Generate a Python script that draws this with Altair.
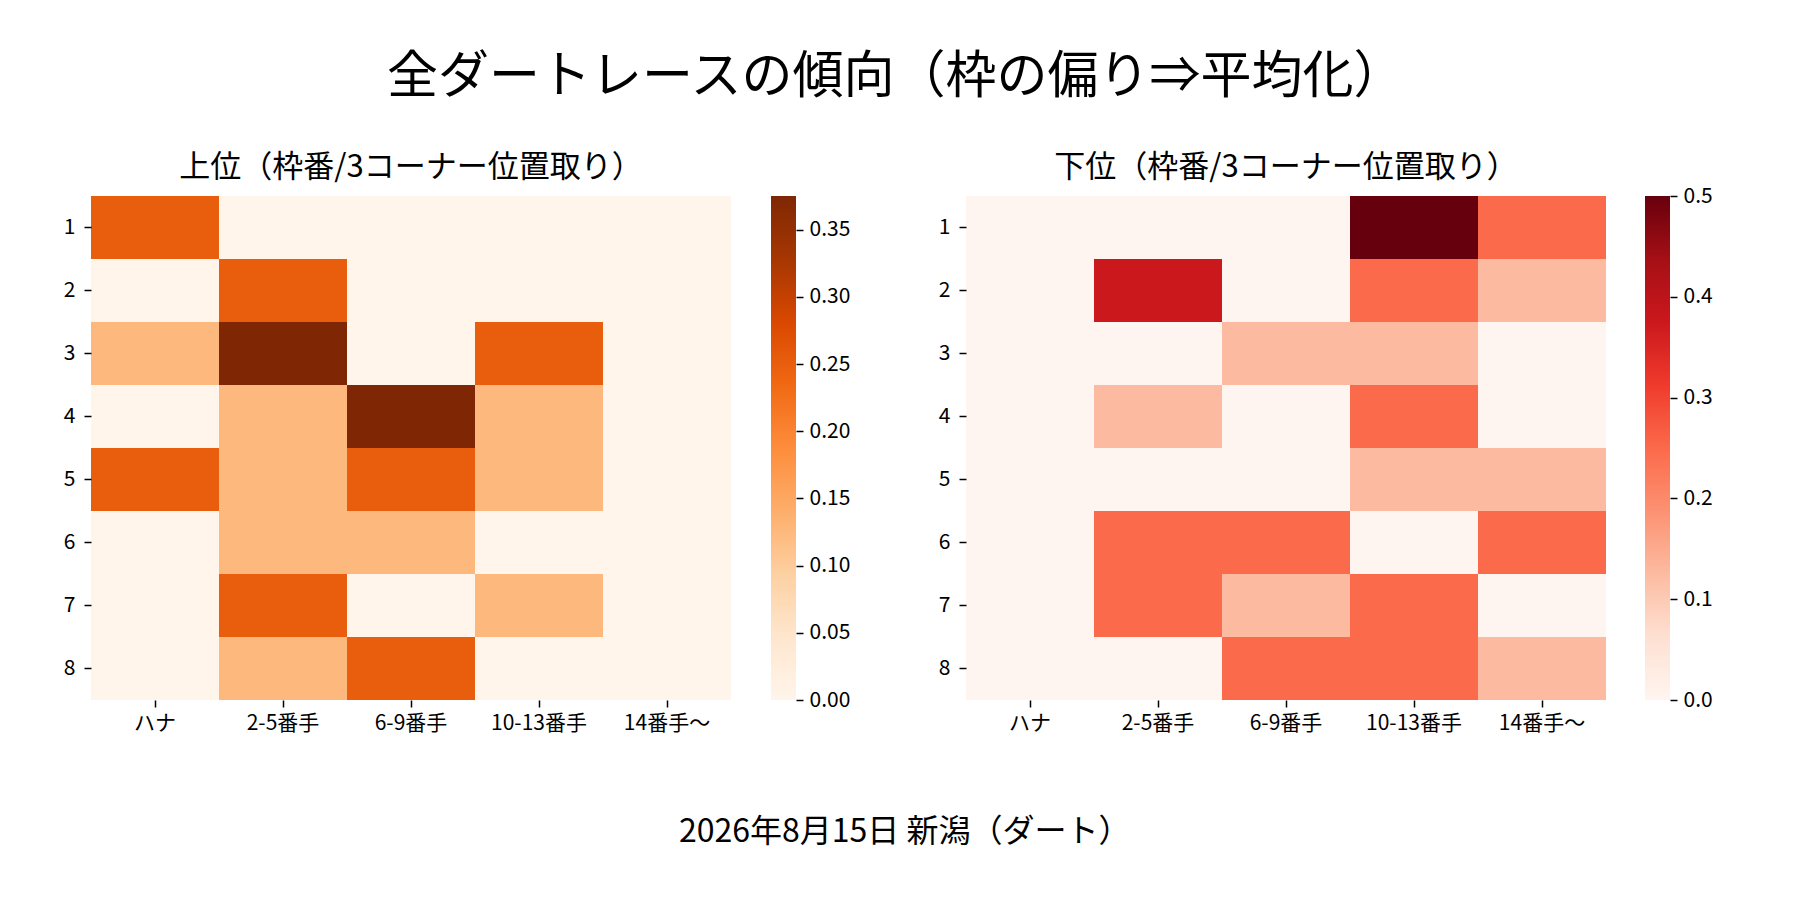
import altair as alt
import pandas as pd

FONT = "Noto Sans CJK JP"

main_title = "全ダートレースの傾向（枠の偏り⇒平均化）"
footer = "2026年8月15日 新潟（ダート）"
title_upper = "上位（枠番/3コーナー位置取り）"
title_lower = "下位（枠番/3コーナー位置取り）"

cols = ["ハナ", "2-5番手", "6-9番手", "10-13番手", "14番手〜"]
rows = [1, 2, 3, 4, 5, 6, 7, 8]

upper = [
    [0.25, 0.0, 0.0, 0.0, 0.0],
    [0.0, 0.25, 0.0, 0.0, 0.0],
    [0.125, 0.375, 0.0, 0.25, 0.0],
    [0.0, 0.125, 0.375, 0.125, 0.0],
    [0.25, 0.125, 0.25, 0.125, 0.0],
    [0.0, 0.125, 0.125, 0.0, 0.0],
    [0.0, 0.25, 0.0, 0.125, 0.0],
    [0.0, 0.125, 0.25, 0.0, 0.0],
]
lower = [
    [0.0, 0.0, 0.0, 0.5, 0.25],
    [0.0, 0.375, 0.0, 0.25, 0.125],
    [0.0, 0.0, 0.125, 0.125, 0.0],
    [0.0, 0.125, 0.0, 0.25, 0.0],
    [0.0, 0.0, 0.0, 0.125, 0.125],
    [0.0, 0.25, 0.25, 0.0, 0.25],
    [0.0, 0.25, 0.125, 0.25, 0.0],
    [0.0, 0.0, 0.25, 0.25, 0.125],
]

upper_vmax = 0.375
lower_vmax = 0.5
upper_ticks = [0.0, 0.05, 0.10, 0.15, 0.20, 0.25, 0.30, 0.35]
lower_ticks = [0.0, 0.1, 0.2, 0.3, 0.4, 0.5]

oranges = ["#fff5eb", "#fee6ce", "#fdd0a2", "#fdae6b", "#fd8d3c",
           "#f16913", "#d94801", "#a63603", "#7f2704"]
reds = ["#fff5f0", "#fee0d2", "#fcbba1", "#fc9272", "#fb6a4a",
        "#ef3b2c", "#cb181d", "#a50f15", "#67000d"]


def to_long(mat):
    recs = []
    for r, rowvals in zip(rows, mat):
        for c, v in zip(cols, rowvals):
            recs.append({"row": r, "col": c, "v": v})
    return pd.DataFrame(recs)


AX = dict(labelFont=FONT, labelFontSize=21, labelColor="#000000",
          tickColor="#000000", tickWidth=1.5, tickSize=7,
          domain=False, grid=False, title=None)


def heat(mat, colors, vmax, title):
    dom = [vmax * i / 8 for i in range(9)]
    return alt.Chart(to_long(mat)).mark_rect().encode(
        x=alt.X("col:N", sort=cols, axis=alt.Axis(labelAngle=0, labelPadding=5, **AX)),
        y=alt.Y("row:O", sort=rows, axis=alt.Axis(labelPadding=9, **AX)),
        color=alt.Color("v:Q", scale=alt.Scale(domain=dom, range=colors, interpolate="rgb"),
                        legend=None),
    ).properties(
        width=640, height=504,
        title=alt.TitleParams(title, font=FONT, fontSize=31, fontWeight="normal",
                              color="#000000", anchor="middle", frame="group", offset=12),
    )


def cbar(colors, vmax, ticks, fmt):
    grad = alt.Gradient(
        gradient="linear",
        stops=[alt.GradientStop(color=c, offset=i / 8) for i, c in enumerate(colors)],
        x1=0, x2=0, y1=1, y2=0,
    )
    df = pd.DataFrame({"lo": [0.0], "hi": [vmax]})
    return alt.Chart(df).mark_rect(color=grad).encode(
        y=alt.Y("lo:Q", scale=alt.Scale(domain=[0, vmax], nice=False, zero=True),
                axis=alt.Axis(orient="right", values=ticks, format=fmt, labelPadding=6, **AX)),
        y2="hi:Q",
    ).properties(width=25, height=504)


left = alt.hconcat(heat(upper, oranges, upper_vmax, title_upper),
                   cbar(oranges, upper_vmax, upper_ticks, ".2f"),
                   spacing=40).resolve_scale(color="independent", y="independent")
right = alt.hconcat(heat(lower, reds, lower_vmax, title_lower),
                    cbar(reds, lower_vmax, lower_ticks, ".1f"),
                    spacing=39).resolve_scale(color="independent", y="independent")

both = alt.hconcat(left, right, spacing=88).resolve_scale(
    color="independent", y="independent", x="independent"
).properties(
    title=alt.TitleParams(footer, orient="bottom", font=FONT, fontSize=32,
                          fontWeight="normal", color="#000000", anchor="middle",
                          offset=84, dx=17)
)

chart = alt.vconcat(both).resolve_scale(color="independent").properties(
    title=alt.TitleParams(main_title, font=FONT, fontSize=51, fontWeight="normal",
                          color="#000000", anchor="middle", offset=48, dx=8),
    padding={"left": 55, "top": 44, "right": 5, "bottom": 5},
    background="white",
).configure_view(stroke=None)

chart.save("out.html", embed_options={"renderer": "svg", "actions": False})
